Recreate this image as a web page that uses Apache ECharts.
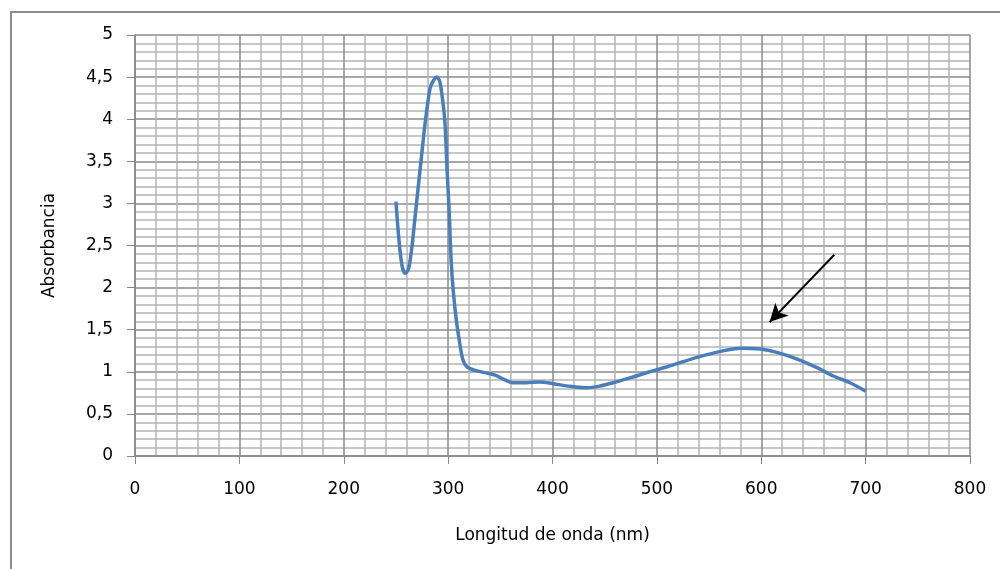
<!DOCTYPE html>
<html>
<head>
<meta charset="utf-8">
<script src="https://cdn.jsdelivr.net/npm/echarts@6/dist/echarts.min.js"></script>
<style>
  html, body { margin: 0; padding: 0; background: #fff; }
  #chart { width: 1000px; height: 569px; }
</style>
</head>
<body>
<div id="chart"></div>
<script>
// Absorption spectrum: wavelength (nm) vs absorbance
const wavelength = [250, 253, 256, 259, 262, 265, 268, 271, 274, 277, 280, 283, 286, 289, 292, 295, 297, 299, 301, 303, 305, 308, 311, 314, 318, 325, 335, 345, 355, 362, 375, 388, 400, 415, 433, 445, 458, 475, 493, 510, 525, 541, 560, 580, 599, 615, 637, 655, 669, 685, 700];
const absorbance = [3.02, 2.55, 2.25, 2.17, 2.22, 2.45, 2.8, 3.15, 3.5, 3.85, 4.15, 4.38, 4.46, 4.5, 4.45, 4.2, 3.95, 3.4, 2.9, 2.3, 1.95, 1.6, 1.35, 1.15, 1.06, 1.02, 0.99, 0.96, 0.9, 0.87, 0.87, 0.88, 0.86, 0.83, 0.81, 0.83, 0.87, 0.93, 1.0, 1.06, 1.12, 1.18, 1.24, 1.28, 1.27, 1.23, 1.14, 1.04, 0.95, 0.87, 0.77];

// Arrow pointing at the visible-band maximum (tail, head) in data units
const arrowTail = [670, 2.39];
const arrowHead = [608, 1.59];

const xTicks = { min: 0, max: 800, step: 100 };
const yTicks = { min: 0, max: 5, step: 0.5 };

const points = wavelength.map((w, i) => [w, absorbance[i]]);

const chart = echarts.init(document.getElementById('chart'));
const font = '"DejaVu Sans", "Liberation Sans", sans-serif';

chart.setOption({
  animation: false,
  backgroundColor: '#fff',
  grid: { left: 135, right: 30, top: 35, bottom: 113, containLabel: false },
  graphic: [{
    type: 'polyline',
    shape: { points: [[11, 569], [11, 12], [1000, 12]] },
    style: { stroke: '#8c8c8c', lineWidth: 2, fill: null }
  }],
  xAxis: {
    type: 'value',
    min: xTicks.min, max: xTicks.max, interval: xTicks.step,
    name: 'Longitud de onda (nm)',
    nameLocation: 'middle', nameGap: 71,
    nameTextStyle: { fontFamily: font, fontSize: 17, color: '#000' },
    axisLine: { onZero: false, lineStyle: { color: '#868686', width: 1.5 } },
    axisTick: { show: true, inside: false, length: 8, lineStyle: { color: '#868686' } },
    axisLabel: { margin: 25, fontFamily: font, fontSize: 17, color: '#000' },
    splitLine: { show: true, lineStyle: { color: '#8a8a8a', width: 1.5 } },
    minorTick: { show: false, splitNumber: 5 },
    minorSplitLine: { show: true, lineStyle: { color: '#b4b4b4', width: 1.5 } }
  },
  yAxis: {
    type: 'value',
    min: yTicks.min, max: yTicks.max, interval: yTicks.step,
    name: 'Absorbancia',
    nameLocation: 'middle', nameGap: 77, nameRotate: 90,
    nameTextStyle: { fontFamily: font, fontSize: 17, color: '#000' },
    axisLine: { show: true, lineStyle: { color: '#868686', width: 1.5 } },
    axisTick: { show: true, inside: false, length: 8, lineStyle: { color: '#868686' } },
    axisLabel: {
      margin: 22, fontFamily: font, fontSize: 17, color: '#000',
      formatter: v => String(v).replace('.', ',')
    },
    splitLine: { show: true, lineStyle: { color: '#8a8a8a', width: 1.5 } },
    minorTick: { show: false, splitNumber: 5 },
    minorSplitLine: { show: true, lineStyle: { color: '#b4b4b4', width: 1.5 } }
  },
  series: [{
    type: 'line',
    data: points,
    smooth: 0.3,
    showSymbol: false,
    lineStyle: { color: '#4a7ebb', width: 3.5 },
    z: 5,
    markLine: {
      silent: true,
      symbol: ['none', 'arrow'],
      symbolSize: [14, 18],
      label: { show: false },
      lineStyle: { color: '#000', width: 2, type: 'solid' },
      data: [[{ coord: arrowTail }, { coord: arrowHead }]]
    }
  }]
});
</script>
</body>
</html>
